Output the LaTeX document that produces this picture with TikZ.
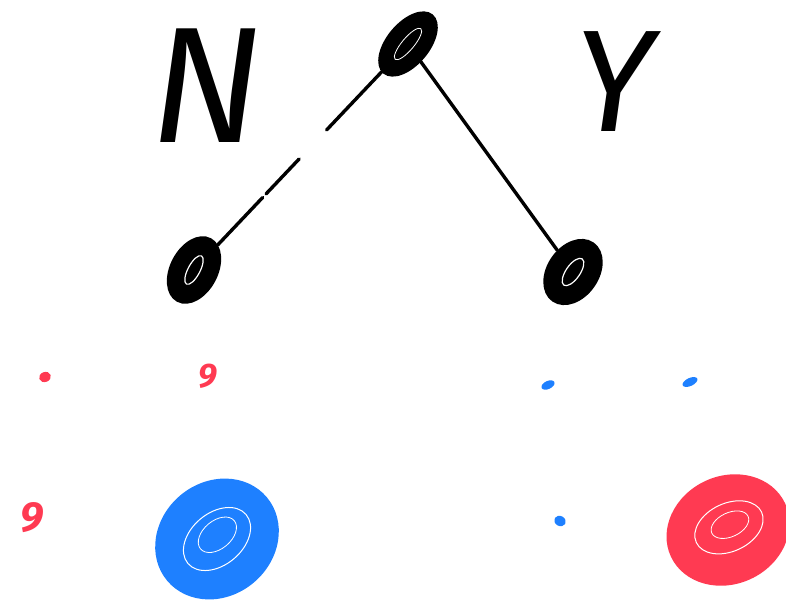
\documentclass[tikz,border=0pt]{standalone}
\usepackage{fontspec}
\usetikzlibrary{shapes.geometric}
\newfontfamily\handfont{Fira Sans}
\newfontfamily\markfont{Fira Sans}
\definecolor{inkred}{RGB}{255,58,82}
\definecolor{inkblue}{RGB}{30,128,255}
\tikzset{
  blackblob/.style={ellipse, draw=black, line width=3pt, fill=black, inner sep=0pt},
  hollowblob/.style={ellipse, draw=black, line width=6pt, fill=black, inner sep=0pt},
  colblob/.style={ellipse, inner sep=0pt, line width=2pt},
  edge/.style={draw=black, line width=3.4pt, line cap=round},
  bigletter/.style={font=\handfont\itshape\fontsize{165}{165}\selectfont, inner sep=0pt},
  smallmark/.style={text=inkred, inner sep=0pt},
  dotmark/.style={ellipse, inner sep=0pt, minimum width=9pt, minimum height=6pt}
}
\begin{document}
\begin{tikzpicture}[x=1pt,y=-1pt]
\useasboundingbox (0,0) rectangle (786,609);
% tree nodes
\node[blackblob, minimum width=74pt, minimum height=40pt, rotate=50] (root) at (408,44) {};
\node[hollowblob, minimum width=66pt, minimum height=42pt, rotate=62] (left) at (194,270) {};
\node[hollowblob, minimum width=66pt, minimum height=46pt, rotate=55] (right) at (573,272) {};
% white scribble streaks inside
\draw[white, line width=0.8pt, rotate around={50:(408,44)}] (408,44) ellipse [x radius=20pt, y radius=6pt];
\draw[white, line width=1.2pt, rotate around={62:(194,270)}] (194,270) ellipse [x radius=16pt, y radius=6pt];
\draw[white, line width=1.2pt, rotate around={55:(573,272)}] (573,272) ellipse [x radius=16pt, y radius=7pt];
% edges
\draw[edge, dash pattern=on 80pt off 40pt on 48pt off 5pt on 300pt] (root) -- (left);
\draw[edge] (root) -- (right);
% labels
\node[bigletter] (N) at (206,86) {N};
\node[bigletter, font=\handfont\itshape\fontsize{145}{145}\selectfont] (Y) at (614,82) {Y};
% small marks
\node[dotmark, fill=inkred, rotate=20, minimum width=12pt, minimum height=10pt] (rd) at (45,377) {};
\node[smallmark, font=\markfont\bfseries\itshape\fontsize{34}{34}\selectfont] (r9a) at (208,376) {9};
\node[smallmark, font=\markfont\bfseries\itshape\fontsize{42}{42}\selectfont] (r9b) at (32,518) {9};
\node[dotmark, fill=inkblue, rotate=25, minimum width=14pt, minimum height=8pt] (bd1) at (548,385) {};
\node[dotmark, fill=inkblue, rotate=25, minimum width=16pt, minimum height=8pt] (bd2) at (690,382) {};
\node[dotmark, fill=inkblue, rotate=-30, minimum width=12pt, minimum height=10pt] (bd3) at (560,521) {};
% coloured blobs
\node[colblob, fill=inkblue, minimum width=130pt, minimum height=114pt, rotate=40] (bb) at (217,539) {};
\node[colblob, fill=inkred, minimum width=126pt, minimum height=108pt, rotate=25] (rb) at (728,530) {};
\draw[white, line width=1pt, rotate around={40:(217,539)}] (217,539) ellipse [x radius=38pt, y radius=26pt];
\draw[white, line width=0.8pt, rotate around={40:(217,539)}] (220,536) ellipse [x radius=22pt, y radius=14pt];
\draw[white, line width=1pt, rotate around={25:(728,530)}] (730,528) ellipse [x radius=36pt, y radius=24pt];
\draw[white, line width=0.8pt, rotate around={25:(728,530)}] (732,526) ellipse [x radius=20pt, y radius=12pt];
\end{tikzpicture}
\end{document}
